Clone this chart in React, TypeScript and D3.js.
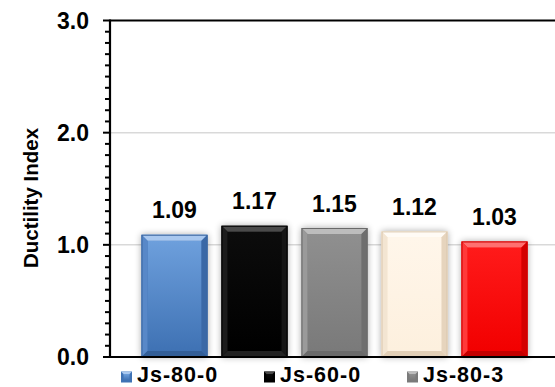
import React from "react";
import * as d3 from "d3";

const series = ["Js-80-0", "Js-60-0", "Js-80-3", "Js-60-3", "Js-80-6"];
const values = [1.09, 1.17, 1.15, 1.12, 1.03];
const labels = ["1.09", "1.17", "1.15", "1.12", "1.03"];
const yTicks = [0, 1, 2, 3];
const yTickLabels = ["0.0", "1.0", "2.0", "3.0"];
const yTitle = "Ductility Index";

const palette = [
  { top: "#a9c8ef", face0: "#6d9fdc", face1: "#3f72b4", side: "#5888c8", right: "#3a68a6", bottom: "#335f98", stroke: "#3a66a0" },
  { top: "#4a4a4a", face0: "#0c0c0c", face1: "#000000", side: "#1c1c1c", right: "#151515", bottom: "#222222", stroke: "#000000" },
  { top: "#bdbdbd", face0: "#8f8f8f", face1: "#7a7a7a", side: "#9a9a9a", right: "#6e6e6e", bottom: "#6a6a6a", stroke: "#6a6a6a" },
  { top: "#fffbf5", face0: "#fff6ea", face1: "#fdf0de", side: "#f3e5d2", right: "#e6d4bd", bottom: "#e2cfb6", stroke: "#d9c6ac" },
  { top: "#ff7070", face0: "#ff1a1a", face1: "#f20000", side: "#ff3a3a", right: "#d40000", bottom: "#c40000", stroke: "#cc0000" },
];

const W = 555;
const H = 387;
const axisX = 110;
const font = "'Liberation Sans', Arial, sans-serif";

export default function App() {
  React.useEffect(() => {
    document.body.style.margin = "0";
  }, []);

  const y = d3.scaleLinear().domain([0, 3]).range([357, 20.5]);
  const x = d3.scaleBand<string>().domain(series).range([134.5, 534.5]).paddingInner(0.175).paddingOuter(0.0875);
  const minorTicks = d3.range(0, 31).map((i) => i / 10);
  const bw = x.bandwidth();
  const b = 6;
  // only the legend entries that fit in the visible first row
  const legendItems = series.slice(0, 3);

  return (
    <svg width={W} height={H} style={{ display: "block", background: "#fff" }}>
      <defs>
        {palette.map((p, i) => (
          <linearGradient key={i} id={`face${i}`} x1="0" y1="0" x2="0" y2="1">
            <stop offset="0" stopColor={p.face0} />
            <stop offset="1" stopColor={p.face1} />
          </linearGradient>
        ))}
        <filter id="shadow" x="-20%" y="-20%" width="140%" height="140%">
          <feGaussianBlur in="SourceAlpha" stdDeviation="3.5" />
          <feComponentTransfer>
            <feFuncA type="linear" slope="0.35" />
          </feComponentTransfer>
          <feMerge>
            <feMergeNode />
            <feMergeNode in="SourceGraphic" />
          </feMerge>
        </filter>
      </defs>

      {/* gridlines */}
      {[1, 2].map((t) => (
        <line key={t} x1={axisX} x2={W} y1={y(t)} y2={y(t)} stroke="#d9d9d9" strokeWidth={1.5} />
      ))}

      {/* bars */}
      {series.map((s, i) => {
        const p = palette[i];
        const x0 = x(s)!;
        const x1 = x0 + bw;
        const y0 = y(values[i]);
        const y1 = y(0);
        return (
          <g key={s}>
            <rect x={x0} y={y0} width={bw} height={y1 - y0} fill={p.face1} filter="url(#shadow)" />
            <rect x={x0 + b} y={y0 + b} width={bw - 2 * b} height={y1 - y0 - 2 * b} fill={`url(#face${i})`} />
            <polygon points={`${x0},${y0} ${x1},${y0} ${x1 - b},${y0 + b} ${x0 + b},${y0 + b}`} fill={p.top} />
            <polygon points={`${x0},${y0} ${x0 + b},${y0 + b} ${x0 + b},${y1 - b} ${x0},${y1}`} fill={p.side} />
            <polygon points={`${x1},${y0} ${x1},${y1} ${x1 - b},${y1 - b} ${x1 - b},${y0 + b}`} fill={p.right} />
            <polygon points={`${x0},${y1} ${x1},${y1} ${x1 - b},${y1 - b} ${x0 + b},${y1 - b}`} fill={p.bottom} />
            <rect x={x0 + 0.5} y={y0 + 0.5} width={bw - 1} height={y1 - y0 - 1} fill="none" stroke={p.stroke} strokeWidth={1} />
            <text x={x0 + bw / 2} y={y0 - 16.5} textAnchor="middle" fontFamily={font} fontWeight="bold" fontSize={23} fill="#000">
              {labels[i]}
            </text>
          </g>
        );
      })}

      {/* axes */}
      <line x1={axisX} x2={W} y1={20.5} y2={20.5} stroke="#000" strokeWidth={2.2} />
      <line x1={axisX} x2={axisX} y1={19.5} y2={358} stroke="#000" strokeWidth={2.2} />
      <line x1={103} x2={W} y1={357} y2={357} stroke="#000" strokeWidth={2.2} />
      {minorTicks.map((t, i) => (
        <line
          key={i}
          x1={i % 10 === 0 ? 103 : 105}
          x2={axisX}
          y1={y(t)}
          y2={y(t)}
          stroke="#000"
          strokeWidth={2}
        />
      ))}
      {yTicks.map((t, i) => (
        <text key={t} x={89} y={y(t)} dy="0.36em" textAnchor="end" fontFamily={font} fontWeight="bold" fontSize={23} fill="#000">
          {yTickLabels[i]}
        </text>
      ))}
      <text
        transform={`translate(37.5,198) rotate(-90)`}
        textAnchor="middle"
        fontFamily={font}
        fontWeight="bold"
        fontSize={20.5}
        fill="#000"
      >
        {yTitle}
      </text>

      {/* legend */}
      {legendItems.map((s, i) => {
        const p = palette[i];
        const lx = 121 + i * 143;
        const ly = 371.5;
        return (
          <g key={s}>
            <rect x={lx} y={ly} width={11} height={11} fill={p.face1} />
            <polygon points={`${lx},${ly} ${lx + 11},${ly} ${lx + 5.5},${ly + 5.5}`} fill={p.top} />
            <rect x={lx + 2.5} y={ly + 2.5} width={6} height={6} fill={`url(#face${i})`} />
            <text x={lx + 16} y={382.2} fontFamily={font} fontWeight="bold" fontSize={21.5} letterSpacing={1} fill="#000">
              {s}
            </text>
          </g>
        );
      })}
    </svg>
  );
}
